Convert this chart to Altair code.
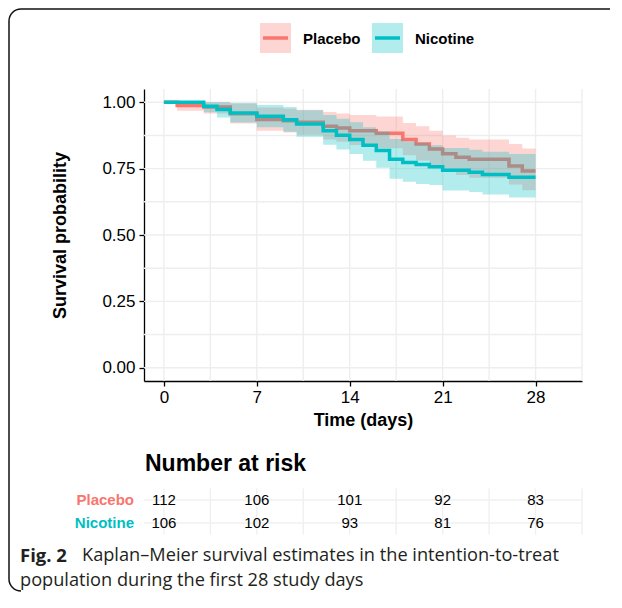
import altair as alt
import pandas as pd

groups = ["Placebo", "Nicotine"]
group_colors = ["#F8766D", "#00BFC4"]

placebo_time = [0, 1, 3, 5, 7, 9, 10, 12, 13, 14, 16, 18, 19, 20, 21, 22, 23, 26, 27, 28]
placebo_surv = [1.000, 0.988, 0.982, 0.957, 0.935, 0.930, 0.925, 0.910, 0.903, 0.893, 0.883,
                0.860, 0.843, 0.824, 0.806, 0.793, 0.785, 0.760, 0.741, 0.741]
placebo_lower = [1.000, 0.968, 0.958, 0.920, 0.893, 0.886, 0.878, 0.860, 0.851, 0.839, 0.827,
                 0.800, 0.781, 0.760, 0.740, 0.726, 0.716, 0.690, 0.669, 0.669]
placebo_upper = [1.000, 1.000, 1.000, 0.995, 0.980, 0.976, 0.972, 0.963, 0.958, 0.952, 0.946,
                 0.922, 0.910, 0.893, 0.875, 0.866, 0.860, 0.843, 0.826, 0.826]

nicotine_time = [0, 3, 4, 5, 7, 9, 10, 12, 13, 14, 15, 16, 17, 18, 19, 20, 21, 23, 24, 26, 28]
nicotine_surv = [1.000, 0.985, 0.973, 0.960, 0.947, 0.934, 0.918, 0.893, 0.876, 0.860, 0.838,
                 0.818, 0.785, 0.773, 0.766, 0.757, 0.744, 0.736, 0.728, 0.718, 0.718]
nicotine_lower = [1.000, 0.962, 0.943, 0.924, 0.906, 0.889, 0.870, 0.840, 0.822, 0.805, 0.780,
                  0.753, 0.712, 0.701, 0.692, 0.688, 0.668, 0.662, 0.653, 0.641, 0.641]
nicotine_upper = [1.000, 1.000, 1.000, 0.997, 0.990, 0.982, 0.970, 0.952, 0.938, 0.925, 0.906,
                  0.890, 0.862, 0.852, 0.847, 0.838, 0.828, 0.821, 0.814, 0.805, 0.805]

risk_time = [0, 7, 14, 21, 28]
risk_placebo = [112, 106, 101, 92, 83]
risk_nicotine = [106, 102, 93, 81, 76]

x_breaks = [0, 7, 14, 21, 28]
x_grid = [0, 3.5, 7, 10.5, 14, 17.5, 21, 24.5, 28, 31.5]
y_breaks = [0, 0.25, 0.5, 0.75, 1.0]
y_grid = [0, 0.125, 0.25, 0.375, 0.5, 0.625, 0.75, 0.875, 1.0]

risk_title = "Number at risk"
caption_bold = "Fig. 2"
caption_line1 = "Kaplan\u2013Meier survival estimates in the intention-to-treat"
caption_line2 = "population during the first 28 study days"

FONT = "Liberation Sans"
CAP_FONT = "Open Sans"

km = pd.concat([
    pd.DataFrame({"group": "Placebo", "time": placebo_time, "surv": placebo_surv,
                  "lo": placebo_lower, "hi": placebo_upper}),
    pd.DataFrame({"group": "Nicotine", "time": nicotine_time, "surv": nicotine_surv,
                  "lo": nicotine_lower, "hi": nicotine_upper}),
], ignore_index=True)

risk = pd.concat([
    pd.DataFrame({"group": "Placebo", "row": 0, "time": risk_time, "n": risk_placebo}),
    pd.DataFrame({"group": "Nicotine", "row": 1, "time": risk_time, "n": risk_nicotine}),
], ignore_index=True)
rows = pd.DataFrame({"group": groups, "row": [0, 1], "color": group_colors})

one = pd.DataFrame({"k": [0]})

W, H = 438, 292
x_scale = alt.Scale(domain=[-1.5, 31.5], nice=False, zero=False)
y_scale = alt.Scale(domain=[-0.05, 1.05], nice=False, zero=False)
no_view = alt.ViewBackground(strokeWidth=0, strokeOpacity=0, fill="white")

x_axis = alt.Axis(values=x_breaks, title="Time (days)", grid=False,
                  labelFont=FONT, labelFontSize=17, labelColor="black", labelPadding=3,
                  titleFont=FONT, titleFontSize=18, titleFontWeight="bold", titleColor="black",
                  titlePadding=6, domainColor="black", domainWidth=1.3,
                  tickColor="black", tickWidth=1.3, tickSize=5)
y_axis = alt.Axis(values=y_breaks, format=".2f", title="Survival probability", grid=False,
                  labelFont=FONT, labelFontSize=17, labelColor="black", labelPadding=4,
                  titleFont=FONT, titleFontSize=18, titleFontWeight="bold", titleColor="black",
                  titlePadding=32, domainColor="black", domainWidth=1.3,
                  tickColor="black", tickWidth=1.3, tickSize=5)

X = alt.X("time:Q", scale=x_scale, axis=x_axis)

grid_v = alt.Chart(pd.DataFrame({"time": x_grid})).mark_rule(
    color="#EEEEEE", strokeWidth=1.4).encode(x=X)
grid_h = alt.Chart(pd.DataFrame({"surv": y_grid})).mark_rule(
    color="#EEEEEE", strokeWidth=1.4).encode(y=alt.Y("surv:Q", scale=y_scale, axis=y_axis))


def band(g, c):
    return alt.Chart(km).transform_filter(alt.datum.group == g).mark_area(
        interpolate="step-after", opacity=0.3, color=c).encode(
        x=X, y=alt.Y("lo:Q", scale=y_scale, axis=y_axis), y2="hi:Q")


def curve(g, c):
    return alt.Chart(km).transform_filter(alt.datum.group == g).mark_line(
        interpolate="step-after", strokeWidth=3.5, color=c).encode(
        x=X, y=alt.Y("surv:Q", scale=y_scale, axis=y_axis))


# legend drawn as marks (key box with a line, then bold label)
def legend_item(label, c, x0):
    box = alt.Chart(one).mark_rect(color=c, opacity=0.3).encode(
        x=alt.value(x0), x2=alt.value(x0 + 31), y=alt.value(-66), y2=alt.value(-36))
    line = alt.Chart(one).mark_rule(color=c, strokeWidth=3.5).encode(
        x=alt.value(x0 + 3), x2=alt.value(x0 + 28), y=alt.value(-51))
    txt = alt.Chart(one).mark_text(font=FONT, fontSize=15, fontWeight="bold", color="black",
                                   align="left", baseline="middle").encode(
        x=alt.value(x0 + 43), y=alt.value(-50), text=alt.value(label))
    return [box, line, txt]


legend_layers = legend_item(groups[0], group_colors[0], 116) + \
    legend_item(groups[1], group_colors[1], 228)

# decorative figure frame (rounded top-left / bottom-left)
FL, FT, R, FB, FR = -135, -80, 12, 490, 466
frame_top = alt.Chart(one).mark_rule(color="#111", strokeWidth=1.5).encode(
    x=alt.value(FL + R), x2=alt.value(FR), y=alt.value(FT))
frame_left = alt.Chart(one).mark_rule(color="#111", strokeWidth=1.5).encode(
    x=alt.value(FL), y=alt.value(FT + R), y2=alt.value(FB))
arc_tl = alt.Chart(one).mark_arc(theta=4.7124, theta2=6.2832, radius=R + 0.75,
                                 radius2=R - 0.75, color="#111").encode(
    x=alt.value(FL + R), y=alt.value(FT + R))
arc_bl = alt.Chart(one).mark_arc(theta=3.1416, theta2=4.7124, radius=R + 0.75,
                                 radius2=R - 0.75, color="#111").encode(
    x=alt.value(FL + R), y=alt.value(FB))

main = alt.layer(grid_v, grid_h,
                 band("Placebo", group_colors[0]), curve("Placebo", group_colors[0]),
                 band("Nicotine", group_colors[1]), curve("Nicotine", group_colors[1]),
                 *legend_layers,
                 frame_top, frame_left, arc_tl, arc_bl).properties(
    width=W, height=H, view=no_view)

# risk table (rows on a quantitative index scale, top row = Placebo)
RX = alt.X("time:Q", scale=x_scale, axis=None)
row_scale = alt.Scale(domain=[-0.5, 1.5], nice=False, zero=False, reverse=True)
RY = alt.Y("row:Q", scale=row_scale, axis=None)

r_grid_v = alt.Chart(pd.DataFrame({"time": x_grid})).mark_rule(
    color="#F0F0F0", strokeWidth=1.4).encode(x=RX)
r_grid_h = alt.Chart(rows).mark_rule(color="#F0F0F0", strokeWidth=1.4).encode(y=RY)
r_labels = alt.Chart(rows).mark_text(font=FONT, fontSize=15, fontWeight="bold",
                                     align="right", baseline="middle").encode(
    x=alt.value(-10), y=RY, text="group:N",
    color=alt.Color("color:N", scale=None))
r_text = alt.Chart(risk).mark_text(font=FONT, fontSize=15, color="black",
                                   baseline="middle").encode(x=RX, y=RY, text="n:Q")

r_title = alt.Chart(one).mark_text(font=FONT, fontSize=23, fontWeight="bold", color="black",
                                   align="left", baseline="alphabetic").encode(
    x=alt.value(1), y=alt.value(-18), text=alt.value(risk_title))

cap_a = alt.Chart(one).mark_text(font=CAP_FONT, fontSize=18.5, fontWeight="bold",
                                 color="#231F20", align="left", baseline="middle").encode(
    x=alt.value(-124), y=alt.value(67), text=alt.value(caption_bold))
cap_b = alt.Chart(one).mark_text(font=CAP_FONT, fontSize=18.2, color="#231F20",
                                 align="left", baseline="middle").encode(
    x=alt.value(-62), y=alt.value(67), text=alt.value(caption_line1))
cap_c = alt.Chart(one).mark_text(font=CAP_FONT, fontSize=18.2, color="#231F20",
                                 align="left", baseline="middle").encode(
    x=alt.value(-124), y=alt.value(92), text=alt.value(caption_line2))

table = alt.layer(r_grid_v, r_grid_h, r_labels, r_text, r_title,
                  cap_a, cap_b, cap_c).properties(width=W, height=46, view=no_view)

chart = alt.vconcat(main, table, spacing=107.5, bounds="flush").properties(
    padding=0).configure_view(strokeWidth=0, strokeOpacity=0).configure(
    background="white")

chart.save("out.html", embed_options={"renderer": "svg", "actions": False})
